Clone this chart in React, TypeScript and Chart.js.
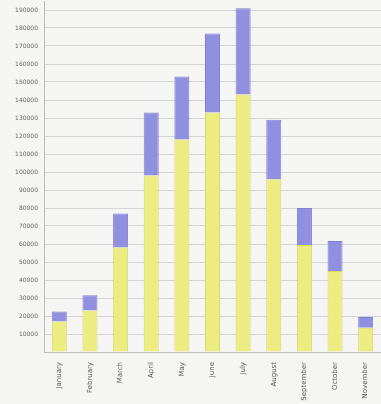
import React, { useEffect, useRef } from "react";
import { Chart, registerables } from "chart.js";

Chart.register(...registerables);

const categories = ["January", "February", "March", "April", "May", "June", "July", "August", "September", "October", "November"];
const lowerValues = [17000, 23000, 58000, 98000, 118000, 133000, 143000, 96000, 59500, 45000, 13500];
const upperValues = [5500, 8500, 19000, 35000, 35000, 44000, 48000, 33000, 20500, 16700, 6000];
const yMax = 195000;
const yStep = 10000;

const bgPlugin = {
  id: "bg",
  beforeDraw(chart: any) {
    const ctx = chart.ctx;
    ctx.save();
    ctx.fillStyle = "#f5f5f4";
    ctx.fillRect(0, 0, chart.width, chart.height);
    ctx.restore();
  },
};

export default function App() {
  const ref = useRef<HTMLCanvasElement>(null);
  useEffect(() => {
    document.body.style.margin = "0";
    const chart = new Chart(ref.current!, {
      type: "bar",
      data: {
        labels: categories,
        datasets: [
          {
            label: "A",
            data: lowerValues,
            backgroundColor: "#ecec80",
            borderColor: "#d9d966",
            borderWidth: 1,
            barPercentage: 0.49,
            categoryPercentage: 1,
          },
          {
            label: "B",
            data: upperValues,
            backgroundColor: "#9090e0",
            borderColor: "#8080d4",
            borderWidth: 1,
            barPercentage: 0.49,
            categoryPercentage: 1,
          },
        ],
      },
      options: {
        animation: false,
        responsive: false,
        layout: { padding: { top: 1, right: 0, left: 0, bottom: 0 } },
        plugins: { legend: { display: false }, title: { display: false }, tooltip: { enabled: false } },
        scales: {
          x: {
            stacked: true,
            grid: { display: false },
            border: { color: "#bbbbbb" },
            ticks: {
              color: "#555555",
              font: { size: 7, family: "DejaVu Sans" },
              minRotation: 90,
              maxRotation: 90,
              autoSkip: false,
              padding: 2,
            },
            afterFit: (scale: any) => {
              scale.height = 52;
              scale.paddingLeft = 0;
              scale.paddingRight = 0;
            },
          },
          y: {
            stacked: true,
            min: 0,
            max: yMax,
            afterBuildTicks: (scale: any) => {
              const t = [];
              for (let v = 0; v <= yMax; v += yStep) t.push({ value: v });
              scale.ticks = t;
            },
            grid: { color: "#d4d4d4", drawTicks: false },
            border: { color: "#bbbbbb" },
            ticks: {
              color: "#666666",
              font: { size: 6, family: "DejaVu Sans" },
              padding: 6,
              callback: (v: any) => (v === 0 ? "" : String(v)),
            },
            afterFit: (scale: any) => {
              scale.width = 44;
              scale.paddingTop = 0;
              scale.paddingBottom = 0;
            },
          },
        },
      },
      plugins: [bgPlugin],
    });
    return () => chart.destroy();
  }, []);
  return <canvas ref={ref} width={381} height={404} style={{ display: "block" }} />;
}
